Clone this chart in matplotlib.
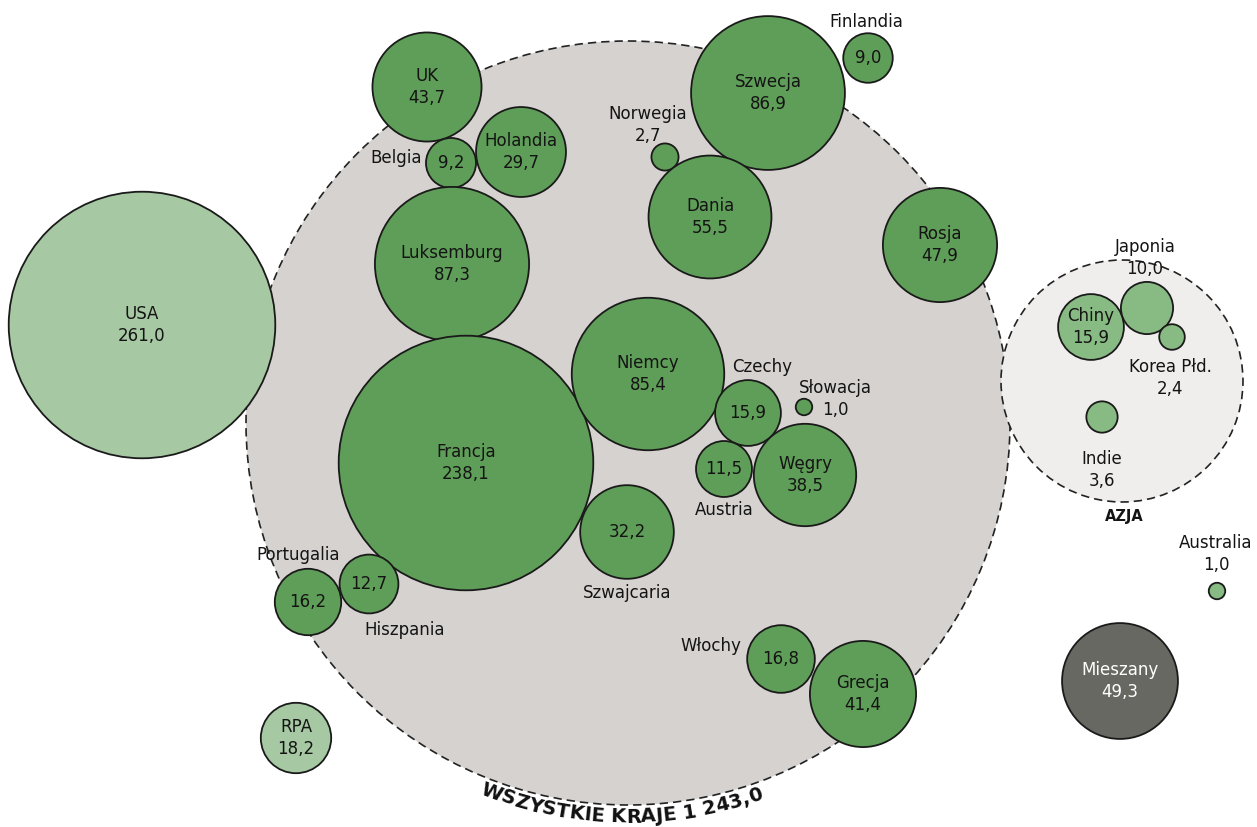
import numpy as np
import matplotlib

matplotlib.use("Agg")
import matplotlib.pyplot as plt
from matplotlib.patches import Circle
from matplotlib.textpath import text_to_path
from matplotlib.font_manager import FontProperties

# --- data -------------------------------------------------------------------
countries = [
    "USA", "UK", "Belgia", "Holandia", "Luksemburg", "Francja", "Norwegia",
    "Szwecja", "Finlandia", "Dania", "Rosja", "Niemcy", "Czechy", "Słowacja",
    "Austria", "Węgry", "Szwajcaria", "Portugalia", "Hiszpania", "Włochy",
    "Grecja", "RPA", "Chiny", "Japonia", "Korea Płd.", "Indie", "Australia",
    "Mieszany",
]
values = [
    261.0, 43.7, 9.2, 29.7, 87.3, 238.1, 2.7,
    86.9, 9.0, 55.5, 47.9, 85.4, 15.9, 1.0,
    11.5, 38.5, 32.2, 16.2, 12.7, 16.8,
    41.4, 18.2, 15.9, 10.0, 2.4, 3.6, 1.0,
    49.3,
]
groups = [
    "other", "eu", "eu", "eu", "eu", "eu", "eu",
    "eu", "eu", "eu", "eu", "eu", "eu", "eu",
    "eu", "eu", "eu", "eu", "eu", "eu",
    "eu", "other", "asia", "asia", "asia", "asia", "asia",
    "mixed",
]
total_all = 1243.0
asia_label = "AZJA"

# --- layout (pixel coords, y down) ------------------------------------------
# name -> (cx, cy, label mode, dx, dy)
layout = {
    "USA": (142, 325, "in", 0, 0),
    "UK": (427, 87, "in", 0, 0),
    "Belgia": (451, 163, "name", -55, -5),
    "Holandia": (521, 152, "in", 0, 0),
    "Luksemburg": (452, 264, "in", 0, 0),
    "Francja": (466, 463, "in", 0, 0),
    "Norwegia": (665, 157, "out", -17, -32),
    "Szwecja": (768, 93, "in", 0, 0),
    "Finlandia": (868, 58, "name", -2, -36),
    "Dania": (710, 217, "in", 0, 0),
    "Rosja": (940, 245, "in", 0, 0),
    "Niemcy": (648, 374, "in", 0, 0),
    "Czechy": (748, 413, "name", 14, -46),
    "Słowacja": (804, 407, "out", 31, -8),
    "Austria": (724, 469, "name", 0, 41),
    "Węgry": (805, 475, "in", 0, 0),
    "Szwajcaria": (627, 532, "name", 0, 61),
    "Portugalia": (308, 602, "name", -10, -47),
    "Hiszpania": (369, 584, "name", 36, 46),
    "Włochy": (781, 659, "name", -70, -13),
    "Grecja": (863, 694, "in", 0, 0),
    "RPA": (296, 738, "in", 0, 0),
    "Chiny": (1091, 327, "in", 0, 0),
    "Japonia": (1147, 308, "out", -2, -50),
    "Korea Płd.": (1172, 337, "out", -2, 41),
    "Indie": (1102, 417, "out", 0, 53),
    "Australia": (1217, 591, "out", -1, -37),
    "Mieszany": (1120, 681, "in", 0, 0),
}
SCALE = 8.25  # px per sqrt(value)

fill = {"eu": "#5f9e58", "other": "#a6c9a3", "asia": "#88ba83", "mixed": "#676862"}
txt_col = {"eu": "#141414", "other": "#141414", "asia": "#141414", "mixed": "white"}
FS = 12


def fmt(v):
    return f"{v:.1f}".replace(".", ",")


def fmt_thousands(v):
    return f"{v:,.1f}".replace(",", " ").replace(".", ",")


fig = plt.figure(figsize=(12.57, 8.27), dpi=100)
ax = fig.add_axes([0, 0, 1, 1])
ax.set_xlim(0, 1257)
ax.set_ylim(827, 0)
ax.set_aspect("equal")
ax.axis("off")

# container circles
big_c, big_r = (628, 423), 382
asia_c, asia_r = (1122, 381), 121
ax.add_patch(Circle(big_c, big_r, facecolor="#d6d2d0", edgecolor="#222222",
                    lw=1.2, ls=(0, (5, 3)), zorder=1))
ax.add_patch(Circle(asia_c, asia_r, facecolor="#f0eeed", edgecolor="#222222",
                    lw=1.2, ls=(0, (5, 3)), zorder=1))

for name, val, grp in zip(countries, values, groups):
    cx, cy, mode, dx, dy = layout[name]
    r = SCALE * np.sqrt(val)
    ax.add_patch(Circle((cx, cy), r, facecolor=fill[grp], edgecolor="#1a1a1a",
                        lw=1.3, zorder=2))
    c = txt_col[grp]
    if mode == "in":
        ax.text(cx, cy, f"{name}\n{fmt(val)}", ha="center", va="center",
                fontsize=FS, color=c, linespacing=1.25, zorder=3)
    elif mode == "out":
        ax.text(cx + dx, cy + dy, f"{name}\n{fmt(val)}", ha="center", va="center",
                fontsize=FS, color="#141414", linespacing=1.25, zorder=3)
    else:
        ax.text(cx, cy, fmt(val), ha="center", va="center",
                fontsize=FS, color=c, zorder=3)
        ax.text(cx + dx, cy + dy, name, ha="center", va="center",
                fontsize=FS, color="#141414", zorder=3)

ax.text(asia_c[0] + 2, asia_c[1] + asia_r + 15, asia_label, ha="center", va="center",
        fontsize=10.5, fontweight="bold", color="#141414")

# curved label along the bottom of the big circle
label = "WSZYSTKIE KRAJE " + fmt_thousands(total_all)
fp = FontProperties(family="DejaVu Sans", weight="bold", size=14)
px_per_pt = 100 / 72


def adv(s):
    # advance width of a prefix, in px
    if not s:
        return 0.0
    w, _, _ = text_to_path.get_text_width_height_descent(s.replace(" ", "\u00a0"), fp, ismath=False)
    return w * px_per_pt


R = big_r + 12
total = adv(label)
theta0 = 90 + np.degrees(total / 2 / R) + 1.0
for i, ch in enumerate(label):
    if ch == " ":
        continue
    mid = (adv(label[:i]) + adv(label[:i + 1])) / 2
    t = theta0 - np.degrees(mid / R)
    x = big_c[0] + R * np.cos(np.radians(t))
    y = big_c[1] + R * np.sin(np.radians(t))
    ax.text(x, y, ch, ha="center", va="center", rotation=90 - t,
            rotation_mode="anchor", fontproperties=fp, color="#111111")

fig.savefig("out.png", dpi=100)
